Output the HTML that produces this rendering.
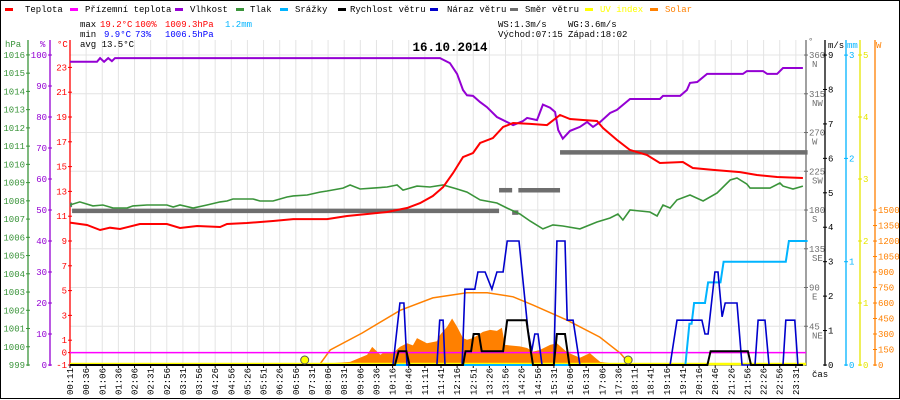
<!DOCTYPE html>
<html><head><meta charset="utf-8"><title>Weather 16.10.2014</title>
<style>
html,body{margin:0;padding:0;background:#fff;}
#wrap{position:relative;width:900px;height:400px;overflow:hidden;}
svg text{font-family:"Liberation Mono",monospace;font-size:9px;}
</style></head>
<body>
<div id="wrap">
<svg id="chart" width="900" height="400" viewBox="0 0 900 400" xmlns="http://www.w3.org/2000/svg"></svg>
</div>
<script>
// ---------- DATA ----------
const timeLabels = ["00:11","00:36","01:06","01:36","02:06","02:31","02:56","03:31","03:56","04:26","04:56","05:26","05:51","06:26","06:56","07:31","08:06","08:31","09:06","09:36","10:16","10:46","11:11","11:41","12:16","12:51","13:26","13:56","14:26","14:56","15:31","16:06","16:31","17:06","17:36","18:11","18:41","19:16","19:41","20:16","20:46","21:26","21:56","22:26","22:56","23:31"];
const tempTimes = [0.18,0.73,1.15,1.47,1.79,2.43,3.30,3.72,4.27,5.01,5.23,5.87,6.71,7.36,8.45,9.09,9.74,10.38,11.02,11.44,11.85,12.18,12.50,12.82,13.14,13.37,13.78,14.11,14.43,14.98,15.52,15.94,16.26,16.68,17.13,17.32,17.77,18.19,18.73,19.15,19.89,20.21,20.86,21.73,22.27,22.92,23.75];
const tempValues = [10.48,10.29,9.89,10.07,9.97,10.37,10.37,10.05,10.21,10.13,10.37,10.45,10.61,10.77,10.77,11.02,11.18,11.34,11.66,12.06,12.63,13.35,14.48,15.77,16.10,16.90,17.31,18.19,18.52,18.44,18.35,19.16,18.84,18.76,18.68,18.11,17.15,16.34,15.94,15.29,15.37,14.89,14.73,14.56,14.32,14.16,14.08];
const groundTimes = [0.18,23.75];
const groundValues = [0,0];
const humTimes = [0.18,1.05,1.15,1.28,1.41,1.53,1.63,12.08,12.40,12.63,12.82,12.95,13.14,13.37,13.59,13.91,14.23,14.43,14.75,14.88,15.20,15.39,15.62,15.78,15.88,16.03,16.26,16.58,16.81,17.00,17.23,17.55,17.77,18.19,19.15,19.25,19.80,20.02,20.12,20.35,20.67,21.82,21.95,22.47,22.60,22.92,23.11,23.75];
const humValues = [97.8,97.8,99,97.8,99,98,99,99,97.4,93.9,88.7,87,86.8,84.8,83.2,80,78.4,77.4,78.7,79.7,79,84,83,81.6,75.8,73,75.5,76.8,78.4,76.8,78.4,81.3,82.3,85.8,85.8,86.8,86.8,88.7,91,91.3,93.9,93.9,94.8,94.8,93.9,93.9,95.8,95.8];
const presTimes = [0.18,0.50,0.92,1.24,1.57,2.02,2.21,2.66,3.30,3.50,3.72,4.14,4.59,5.01,5.23,5.42,6.07,6.29,6.71,7.16,7.36,7.81,8.22,8.45,8.96,9.19,9.51,9.93,10.38,10.70,10.89,11.34,11.76,12.18,12.63,12.95,13.37,13.91,14.23,14.65,14.98,15.39,15.71,16.03,16.58,17.13,17.55,17.80,17.96,18.19,18.83,19.06,19.25,19.48,19.70,20.12,20.54,20.99,21.41,21.63,21.95,22.05,22.69,23.01,23.11,23.43,23.75];
const presValues = [1007.77,1007.94,1007.72,1007.77,1007.61,1007.61,1007.72,1007.77,1007.77,1007.66,1007.77,1007.61,1007.77,1007.94,1007.99,1008.10,1008.10,1007.99,1007.99,1008.21,1008.27,1008.32,1008.48,1008.54,1008.70,1008.87,1008.65,1008.70,1008.76,1008.87,1008.59,1008.81,1008.76,1008.87,1008.65,1008.48,1008.05,1007.88,1007.61,1007.28,1006.89,1006.46,1006.68,1006.62,1006.46,1006.84,1007.06,1007.28,1006.95,1007.50,1007.39,1007.17,1007.77,1007.61,1008.05,1008.32,1007.99,1008.43,1009.14,1009.25,1008.92,1008.70,1008.70,1008.98,1008.81,1008.65,1008.81];
const rainTimes = [0.18,19.97,20.10,20.17,20.25,20.60,20.70,21.10,21.20,23.20,23.30,23.90];
const rainValues = [0,0,0.4,0.4,0.6,0.6,0.8,0.8,1.0,1.0,1.2,1.2];
const speedTimes = [0.18,10.63,10.75,11.00,11.10,12.82,12.90,13.08,13.16,13.33,13.42,14.11,14.24,14.86,15.00,15.07,15.74,15.84,16.10,16.24,20.68,20.78,21.98,22.08,23.75];
const speedValues = [0,0,0.4,0.4,0,0,0.4,0.4,0.9,0.9,0.4,0.4,1.3,1.3,0.4,0,0,0.9,0.9,0,0,0.4,0.4,0,0];
const gustTimes = [0.18,10.57,10.79,10.92,11.02,11.98,12.07,12.18,12.24,12.79,12.88,13.20,13.30,13.53,13.75,13.91,14.11,14.24,14.62,14.91,15.03,15.13,15.23,15.36,15.74,15.84,16.10,16.17,16.36,16.58,19.48,19.70,20.50,20.60,20.70,20.92,21.02,21.15,21.25,21.63,21.79,22.21,22.31,22.53,22.66,23.11,23.20,23.49,23.59,23.75];
const gustValues = [0,0,1.8,1.8,0,0,1.3,1.3,0,0,2.2,2.2,2.7,2.7,2.2,2.7,2.7,3.6,3.6,1.0,0.4,0.9,0.9,0,0,3.6,3.6,1.3,1.3,0,0,1.3,1.3,0.9,0.9,2.7,2.7,1.4,1.8,1.8,0,0,1.3,1.3,0,0,1.3,1.3,0,0];
const dirStarts = [0.18,0.25,13.98,14.40,14.60,15.94];
const dirEnds   = [0.25,13.98,14.40,14.60,15.94,23.90];
const dirValues = [186,179,203,177,203,247];
const uvTimes = [0.18,23.90];
const uvValues = [0,0];
const solarTimes = [8.00,8.22,9.19,9.74,9.90,10.16,10.25,10.57,10.79,11.02,11.21,11.34,11.66,11.98,12.08,12.31,12.47,12.63,12.82,12.95,13.14,13.46,13.69,13.91,14.07,14.17,14.65,14.88,15.07,15.29,15.62,15.84,16.16,16.58,16.90,17.07,17.23,17.77,17.87];
const solarValues = [0,10,30,100,175,100,115,115,175,210,190,260,210,230,290,370,450,370,260,245,260,320,340,330,360,195,180,165,130,145,195,210,125,70,115,70,30,10,0];
const solarMaxTimes = [8.20,8.55,9.58,10.80,11.85,12.95,13.60,14.43,15.07,16.16,17.22,17.87,18.15];
const solarMaxValues = [0,145,310,530,650,700,700,660,580,435,270,116,20];
const sunTimes = [7.73,18.13];

// ---------- SCALES ----------
const X = h => 64.3 + 31.1*h;
const yT = t => 352.6 - 12.4*t;
const yH = v => 365 - 3.1*v;
const yP = p => 365 - 18.24*(p-999);
const yD = d => 365 - 0.861*d;
const yV = v => 365 - 34.44*v;
const yMM = m => 365 - 103.3*m;
const yUV = u => 365 - 62*u;
const yW = w => 365 - 0.1033*w;

const svg = document.getElementById('chart');
const NS = 'http://www.w3.org/2000/svg';
function mk(tag, attrs, parent){
  const e = document.createElementNS(NS, tag);
  for (const k in attrs) e.setAttribute(k, attrs[k]);
  (parent||svg).appendChild(e);
  return e;
}
function txt(x,y,s,fill,anchor,parent,extra){
  const t = mk('text',Object.assign({x:x,y:y,fill:fill||'#000','text-anchor':anchor||'start'},extra||{}),parent);
  t.textContent = s;
  return t;
}
function pts(times, vals, yf){
  return times.map((t,i)=>X(t).toFixed(1)+','+yf(vals[i]).toFixed(1)).join(' ');
}

// border
const border = mk('rect',{x:0.5,y:0.5,width:899,height:398,fill:'none',stroke:'#000','stroke-width':1});



// ---------- GRID ----------
const grid = mk('g',{});


timeLabels.forEach((l,i)=>{
  const x = 70 + i*16.13;
  const gl = mk('line',{x1:x,y1:40,x2:x,y2:365,stroke:'#e4e4e4','stroke-width':1},grid);
  
  
});
[45,90,135,180,225,270,315,360].forEach(d=>{
  const gl = mk('line',{x1:70,y1:yD(d),x2:806,y2:yD(d),stroke:'#e4e4e4','stroke-width':1},grid);
  
  
});

// ---------- LEGEND ----------
const legendItems = [
  [5,25,'Teplota','#ff0000','#000'],
  [70,85,'Přízemní teplota','#ff00ff','#000'],
  [175,190,'Vlhkost','#9400d3','#000'],
  [236,250,'Tlak','#3a943a','#000'],
  [280,295,'Srážky','#00b4ff','#000'],
  [338,350,'Rychlost větru','#000000','#000'],
  [430,447,'Náraz větru','#0000cc','#000'],
  [510,525,'Směr větru','#6e6e6e','#000'],
  [585,600,'UV index','#ffff00','#ffff00'],
  [650,665,'Solar','#ff8000','#ff8000']
];
const legend = mk('g',{});


legendItems.forEach(it=>{
  const g = mk('g',{},legend);
  
  
  mk('rect',{x:it[0],y:8,width:8,height:3,fill:it[3]},g);
  txt(it[1],12,it[2],it[4],'start',g);
});

// stats
const stats = mk('g',{});


txt(80,27,'max','#000','start',stats);
txt(100,27,'19.2°C','#ff0000','start',stats);
txt(135,27,'100%','#ff0000','start',stats);
txt(165,27,'1009.3hPa','#ff0000','start',stats);
txt(225,27,'1.2mm','#00b4ff','start',stats);
txt(80,37,'min','#000','start',stats);
txt(104,37,'9.9°C','#0000ff','start',stats);
txt(135,37,'73%','#0000ff','start',stats);
txt(165,37,'1006.5hPa','#0000ff','start',stats);
txt(80,47,'avg 13.5°C','#000','start',stats);
txt(498,27,'WS:1.3m/s','#000','start',stats);
txt(568,27,'WG:3.6m/s','#000','start',stats);
txt(498,37,'Východ:07:15','#000','start',stats);
txt(568,37,'Západ:18:02','#000','start',stats);
const title = txt(450,51,'16.10.2014','#000','middle',null,{'font-weight':'bold','style':'font-size:12.5px'});



// ---------- AXES ----------
function axis(name, x, color, ticks, yf, side, labelFn, tickLen){
  const g = mk('g',{});
  
  
  mk('line',{x1:x,y1:40,x2:x,y2:366,stroke:color,'stroke-width':1.3},g);
  ticks.forEach(v=>{
    const y = yf(v);
    mk('line',{x1:x-2,y1:y,x2:x+2,y2:y,stroke:color,'stroke-width':1},g);
    const s = labelFn ? labelFn(v) : String(v);
    if (side==='left') txt(x-3,y+3,s,color,'end',g);
    else txt(x+3,y+3,s,color,'start',g);
  });
  return g;
}
axis('pressure-axis',28,'#3a943a',[999,1000,1001,1002,1003,1004,1005,1006,1007,1008,1009,1010,1011,1012,1013,1014,1015,1016],yP,'left');
axis('humidity-axis',50,'#9400d3',[0,10,20,30,40,50,60,70,80,90,100],yH,'left');
axis('temperature-axis',70,'#ff0000',[-1,0,1,3,5,7,9,11,13,15,17,19,21,23],yT,'left');
const dirNames = {45:'NE',90:'E',135:'SE',180:'S',225:'SW',270:'W',315:'NW',360:'N'};
const dAx = axis('direction-axis',806,'#6e6e6e',[45,90,135,180,225,270,315,360],yD,'right');
[45,90,135,180,225,270,315,360].forEach(d=>txt(812,yD(d)+12,dirNames[d],'#6e6e6e','start',dAx));
axis('speed-axis',825,'#000',[0,1,2,3,4,5,6,7,8,9],yV,'right');
axis('rain-axis',846,'#00b4ff',[0,1,2,3],yMM,'right');
axis('uv-axis',860,'#e6e600',[0,1,2,3,4,5],yUV,'right');
axis('solar-axis',875,'#ff8000',[0,150,300,450,600,750,900,1050,1200,1350,1500],yW,'right');
// axis titles
[[5,47,'hPa','#3a943a'],[40,47,'%','#9400d3'],[57,47,'°C','#ff0000'],[808,44,'°','#6e6e6e'],[828,48,'m/s','#000'],[847,48,'mm','#00b4ff'],[876,48,'W','#ff8000'],[812,377,'čas','#000']].forEach(a=>{
  const t = txt(a[0],a[1],a[2],a[3],'start');
  
  
});

// x labels
const xl = mk('g',{});


mk('line',{x1:70,y1:365,x2:806,y2:365,stroke:'#000','stroke-width':1},xl);
timeLabels.forEach((l,i)=>{
  const x = 70 + i*16.13;
  mk('line',{x1:x,y1:365,x2:x,y2:368,stroke:'#000','stroke-width':1},xl);
  txt(0,0,l,'#000','end',xl,{transform:'translate('+(x+3)+',368) rotate(-90)'});
});

// ---------- SERIES ----------
// solar measured area
const solarPts = X(solarTimes[0])+',365 '+pts(solarTimes,solarValues,yW)+' '+X(solarTimes[solarTimes.length-1])+',365';
const solarArea = mk('polygon',{points:solarPts,fill:'#ff8000',stroke:'none'});


// solar theoretical line
const solarMax = mk('polyline',{points:pts(solarMaxTimes,solarMaxValues,yW),fill:'none',stroke:'#ff8000','stroke-width':1.5});


// ground temperature
const ground = mk('polyline',{points:'70,'+yT(groundValues[0])+' 806,'+yT(groundValues[1]),fill:'none',stroke:'#ff00ff','stroke-width':1.5});


// UV
const uv = mk('polyline',{points:'70,'+(yUV(uvValues[0])-1)+' 806,'+(yUV(uvValues[1])-1),fill:'none',stroke:'#ffff00','stroke-width':2.5});


// wind direction bars
dirValues.forEach((d,i)=>{
  const b = mk('line',{x1:X(dirStarts[i]),y1:yD(d),x2:Math.min(X(dirEnds[i]),808),y2:yD(d),stroke:'#6e6e6e','stroke-width':4.5});
  
  
});
// pressure
const pres = mk('polyline',{points:pts(presTimes,presValues,yP),fill:'none',stroke:'#3a943a','stroke-width':1.6});


// humidity
const hum = mk('polyline',{points:pts(humTimes,humValues,yH),fill:'none',stroke:'#9400d3','stroke-width':2});


// temperature
const temp = mk('polyline',{points:pts(tempTimes,tempValues,yT),fill:'none',stroke:'#ff0000','stroke-width':2});


// rain
const rain = mk('polyline',{points:pts(rainTimes,rainValues,yMM),fill:'none',stroke:'#00b4ff','stroke-width':2});


// gust
const gust = mk('polyline',{points:pts(gustTimes,gustValues,yV),fill:'none',stroke:'#0000cc','stroke-width':1.6});


// speed
const speed = mk('polyline',{points:pts(speedTimes,speedValues,yV),fill:'none',stroke:'#000','stroke-width':2});


// sunrise / sunset markers
sunTimes.forEach((h,i)=>{
  const c = mk('circle',{cx:X(h),cy:360,r:4,fill:'#ffff00',stroke:'#555','stroke-width':1});
  
  
});
</script>
</body></html>
